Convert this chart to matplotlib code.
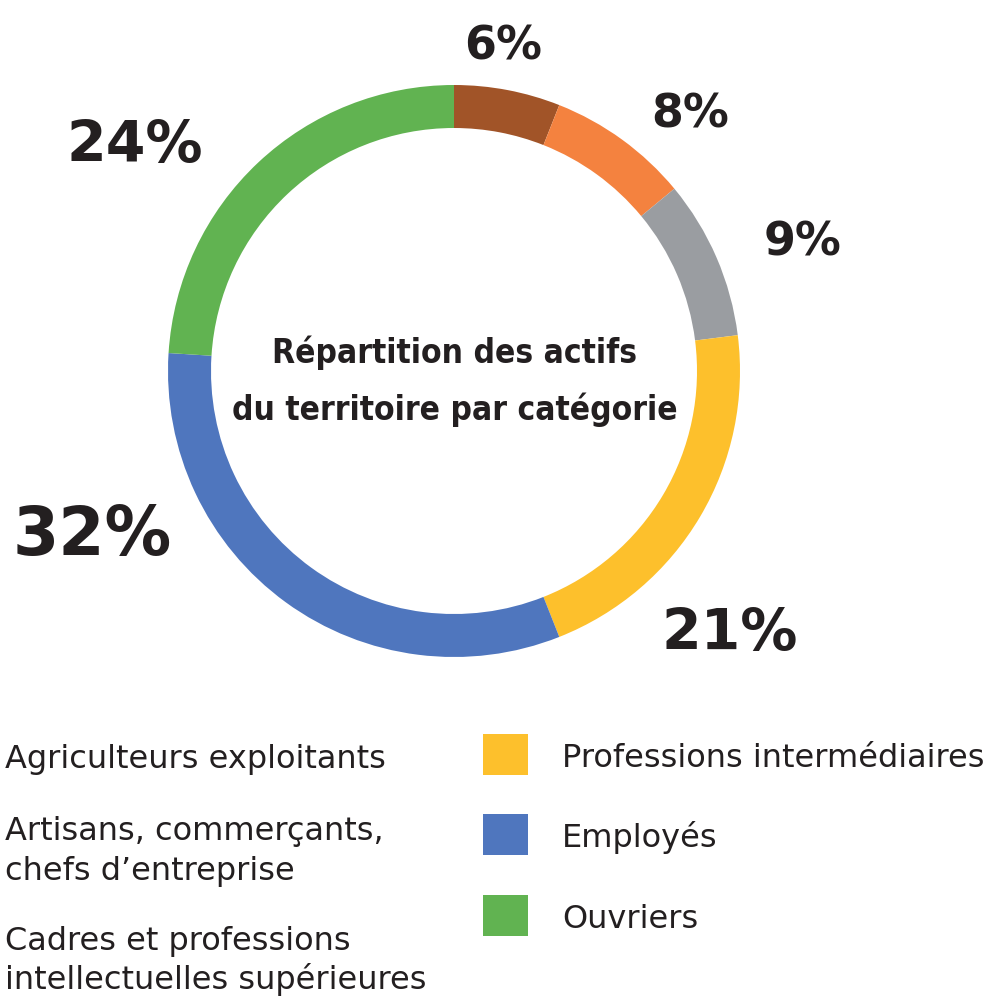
import matplotlib
matplotlib.use("Agg")
import matplotlib.pyplot as plt
from matplotlib.patches import Rectangle

W, H = 989, 1004
categories = ["Agriculteurs exploitants", "Artisans, commerçants,\nchefs d\u2019entreprise",
              "Cadres et professions\nintellectuelles supérieures",
              "Professions intermédiaires", "Employés", "Ouvriers"]
values = [6, 8, 9, 21, 32, 24]
pct_labels = ["6%", "8%", "9%", "21%", "32%", "24%"]
colors = ["#A15428", "#F4823F", "#9A9DA1", "#FDC02C", "#4F76BE", "#61B351"]
title = ["Répartition des actifs", "du territoire par catégorie"]

TXT = "#231F20"
fig = plt.figure(figsize=(W / 100, H / 100), dpi=100)
fig.patch.set_facecolor("white")

cx, cy, R = 454, 372, 286
ax = fig.add_axes([(cx - R) / W, (H - cy - R) / H, 2 * R / W, 2 * R / H])
ax.pie(values, colors=colors, startangle=90, counterclock=False, radius=1,
       wedgeprops=dict(width=43 / R, edgecolor="none"))
ax.set_xlim(-1, 1)
ax.set_ylim(-1, 1)
ax.set_aspect("equal")
ax.axis("off")

ov = fig.add_axes([0, 0, 1, 1])
ov.set_xlim(0, W)
ov.set_ylim(H, 0)
ov.axis("off")

# percentage labels: (x center, baseline y, size)
lab_pos = [(503, 60, 33), (690, 127, 33), (803, 255, 33), (730, 650, 41), (92, 555, 48), (135, 162, 41)]
for t, (x, y, s) in zip(pct_labels, lab_pos):
    ov.text(x, y, t, ha="center", va="baseline", fontsize=s, fontweight="bold", color=TXT,
            family="DejaVu Sans")

for line, yb in zip(title, [363, 420]):
    ov.text(455, yb, line, ha="center", va="baseline", fontsize=24, fontweight="bold",
            color=TXT, family="DejaVu Sans", stretch="condensed")

# legend left (swatches cropped out in the original)
left_lines = [(categories[0], 768)]
l1, l2 = categories[1].split("\n")
l3, l4 = categories[2].split("\n")
left_lines += [(l1, 840), (l2, 880), (l3, 950), (l4, 989)]
for t, yb in left_lines:
    ov.text(5, yb, t, ha="left", va="baseline", fontsize=23, color=TXT, family="DejaVu Sans")

# legend right
right_items = [(categories[3], colors[3], 735, 767), (categories[4], colors[4], 815, 847),
               (categories[5], colors[5], 896, 928)]
for t, c, ytop, yb in right_items:
    ov.add_patch(Rectangle((483, ytop), 45, 41, facecolor=c, edgecolor="none"))
    ov.text(562, yb, t, ha="left", va="baseline", fontsize=23, color=TXT, family="DejaVu Sans")

fig.savefig("out.png", dpi=100)
